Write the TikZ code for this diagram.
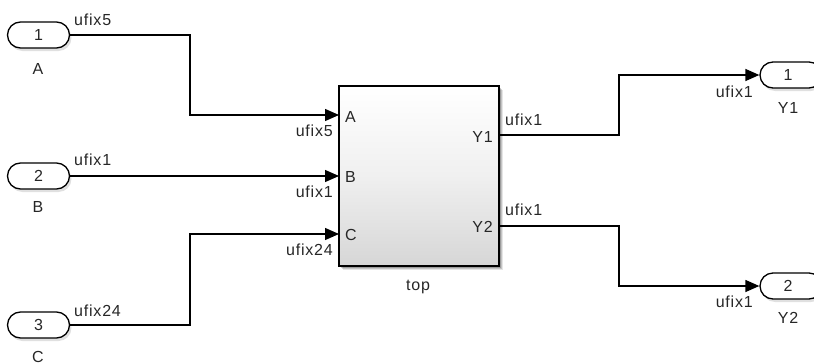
\documentclass[tikz,border=0pt]{standalone}
\usepackage{fontspec}
\setmainfont{Liberation Sans}[LetterSpace=5]
\usetikzlibrary{arrows.meta,shapes.misc}
\tikzset{
  lbl/.style={inner sep=0pt, font=\fontsize{16}{18}\selectfont, text=black!85},
  pill/.style={rounded rectangle, draw=black, line width=1.3pt, fill=white,
    minimum width=62pt, minimum height=26pt, inner sep=0pt,
    font=\fontsize{16}{18}\selectfont, text=black!85},
  wire/.style={line width=1.3pt, draw=black},
  arr/.style={wire, -{Triangle[length=14pt,width=12pt]}},
  blk/.style={draw=black, line width=1.4pt, top color=white, bottom color=black!16,
    middle color=black!6, minimum width=160pt, minimum height=180pt, inner sep=0pt},
}
\begin{document}
\begin{tikzpicture}[x=1pt,y=-1pt]
\useasboundingbox (0,0) rectangle (814,364);
\clip (0,0) rectangle (814,364);
% shadows
\foreach \o/\a in {4/0.10,3/0.15,2/0.2}{
  \fill[black,opacity=\a] (339+\o,86+\o) rectangle (499+\o,266+\o);
}
\foreach \cx/\cy in {38.5/35,38.5/176,38.5/325,791/75,791/286}{
  \fill[black,opacity=0.12,rounded corners=13pt] (\cx-31+2,\cy-13+3) rectangle (\cx+31+2,\cy+13+3);
}
% block
\node[blk] (top) at (419,176) {};
\coordinate (pA) at (339,115);
\coordinate (pB) at (339,176);
\coordinate (pC) at (339,234);
\coordinate (pY1) at (499,135);
\coordinate (pY2) at (499,226);
\node[lbl,anchor=base west] (lA) at (345,122) {A};
\node[lbl,anchor=base west] (lB) at (345,182) {B};
\node[lbl,anchor=base west] (lC) at (345,240) {C};
\node[lbl,anchor=base east] (lY1) at (493,142) {Y1};
\node[lbl,anchor=base east] (lY2) at (493,232) {Y2};
\node[lbl,anchor=base] (ltop) at (418,290) {top};
% ports
\node[pill] (in1) at (38.5,35) {\raisebox{-1pt}{1}};
\node[pill] (in2) at (38.5,176) {\raisebox{-1pt}{2}};
\node[pill] (in3) at (38.5,325) {\raisebox{-1pt}{3}};
\node[pill] (out1) at (791,75) {\hspace*{-6pt}\raisebox{-1pt}{1}};
\node[pill] (out2) at (791,286) {\hspace*{-6pt}\raisebox{-1pt}{2}};
\node[lbl,anchor=base] (nA) at (38,74) {A};
\node[lbl,anchor=base] (nB) at (38,212) {B};
\node[lbl,anchor=base] (nC) at (38,362) {C};
\node[lbl,anchor=base] (nY1) at (788,113) {Y1};
\node[lbl,anchor=base] (nY2) at (788,323) {Y2};
% wires
\draw[arr] (in1.east) -- (190,35) |- (pA);
\draw[arr] (in2.east) -- (pB);
\draw[arr] (in3.east) -- (190,325) |- (pC);
\draw[arr] (pY1) -- (619,135) |- (out1.west);
\draw[arr] (pY2) -- (619,226) |- (out2.west);
% signal labels
\node[lbl,anchor=base west] (s1) at (74,25) {ufix5};
\node[lbl,anchor=base west] (s2) at (74,165) {ufix1};
\node[lbl,anchor=base west] (s3) at (74,316) {ufix24};
\node[lbl,anchor=base east] (s4) at (333,136) {ufix5};
\node[lbl,anchor=base east] (s5) at (333,197) {ufix1};
\node[lbl,anchor=base east] (s6) at (333,255) {ufix24};
\node[lbl,anchor=base west] (s7) at (505,125) {ufix1};
\node[lbl,anchor=base west] (s8) at (505,215) {ufix1};
\node[lbl,anchor=base east] (s9) at (753,97) {ufix1};
\node[lbl,anchor=base east] (s10) at (753,307) {ufix1};
\end{tikzpicture}
\end{document}
